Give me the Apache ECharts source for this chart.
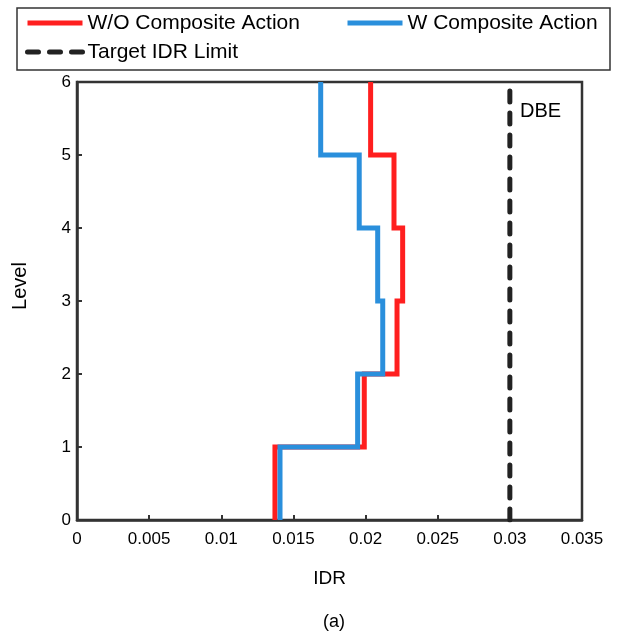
<!DOCTYPE html>
<html>
<head>
<meta charset="utf-8">
<script src="https://cdn.jsdelivr.net/npm/echarts@6/dist/echarts.min.js"></script>
<style>html,body{margin:0;padding:0;background:#fff}#c{width:623px;height:632px}</style>
</head>
<body>
<div id="c"></div>
<script>
// Data
var levels = [0, 1, 2, 3, 4, 5, 6];
var woComposite = [0.01372, 0.01991, 0.02218, 0.02257, 0.02197, 0.02035]; // IDR per story (level i to i+1)
var wComposite  = [0.01407, 0.01945, 0.02119, 0.02084, 0.01956, 0.01689];
var targetIDR = 0.03;
var xTicks = [0, 0.005, 0.01, 0.015, 0.02, 0.025, 0.03, 0.035];
var seriesNames = ['W/O Composite Action', 'W Composite Action', 'Target IDR Limit'];

function stairs(vals) {
  var pts = [];
  for (var i = 0; i < vals.length; i++) {
    pts.push([vals[i], levels[i]]);
    pts.push([vals[i], levels[i + 1]]);
  }
  return pts;
}

var FONT = "'Liberation Sans', Arial, sans-serif";
var chart = echarts.init(document.getElementById('c'), null, {renderer: 'canvas'});

var legendCommon = {
  orient: 'horizontal', padding: 0, itemGap: 0, itemWidth: 55, itemHeight: 14,
  selectedMode: false,
  itemStyle: {opacity: 0},
  lineStyle: {width: 5},
  textStyle: {fontFamily: FONT, fontSize: 21, color: '#000', lineHeight: 24}
};

chart.setOption({
  animation: false,
  backgroundColor: '#fff',
  textStyle: {fontFamily: FONT},
  grid: {left: 77, right: 41, top: 82, bottom: 112, show: true, borderColor: '#333', borderWidth: 2.5, outerBoundsMode: 'none'},
  legend: [
    Object.assign({data: [seriesNames[0]], left: 25, top: 11}, legendCommon),
    Object.assign({data: [seriesNames[1]], left: 345, top: 11}, legendCommon),
    Object.assign({data: [seriesNames[2]], left: 25, top: 40}, legendCommon)
  ],
  title: {text: '(a)', left: 318, top: 608, textStyle: {fontFamily: FONT, fontSize: 18, fontWeight: 'normal', color: '#000'}},
  xAxis: {
    type: 'value', min: xTicks[0], max: xTicks[xTicks.length - 1], interval: 0.005,
    name: 'IDR', nameLocation: 'middle', nameGap: 49,
    nameTextStyle: {fontFamily: FONT, fontSize: 19, color: '#000'},
    axisLine: {show: true, lineStyle: {color: '#333', width: 2.5}},
    axisTick: {show: true, inside: true, length: 5, lineStyle: {color: '#333', width: 2}},
    axisLabel: {fontFamily: FONT, fontSize: 17, color: '#000', margin: 11,
      formatter: function (v) { return String(+v.toFixed(3)); }},
    splitLine: {show: false}
  },
  yAxis: {
    type: 'value', min: levels[0], max: levels[levels.length - 1], interval: 1,
    name: 'Level', nameLocation: 'middle', nameGap: 47,
    nameTextStyle: {fontFamily: FONT, fontSize: 20, color: '#000', padding: [0, 0, 0, 30]},
    axisLine: {show: true, lineStyle: {color: '#333', width: 2.5}},
    axisTick: {show: true, inside: true, length: 5, lineStyle: {color: '#333', width: 2}},
    axisLabel: {fontFamily: FONT, fontSize: 17, color: '#000', margin: 6},
    splitLine: {show: false}
  },
  graphic: [
    {type: 'rect', shape: {x: 17, y: 8, width: 593, height: 62}, style: {fill: 'none', stroke: '#333', lineWidth: 1.5}, z: 100},
    {type: 'text', x: 520, y: 101, style: {text: 'DBE', fontFamily: FONT, fontSize: 20, fill: '#000'}, z: 100}
  ],
  series: [
    {name: seriesNames[0], type: 'line', data: stairs(woComposite), symbol: 'none', color: '#FF1F1F',
      lineStyle: {width: 5, color: '#FF1F1F', join: 'miter'}, z: 2},
    {name: seriesNames[1], type: 'line', data: stairs(wComposite), symbol: 'none', color: '#2A8FDC',
      lineStyle: {width: 5, color: '#2A8FDC', join: 'miter'}, z: 3},
    {name: seriesNames[2], type: 'line', data: [[targetIDR, levels[0]], [targetIDR, levels[levels.length - 1]]], symbol: 'none', color: '#222',
      lineStyle: {width: 5, color: '#222', type: [11, 11], cap: 'round'}, z: 4}
  ]
});
</script>
</body>
</html>
